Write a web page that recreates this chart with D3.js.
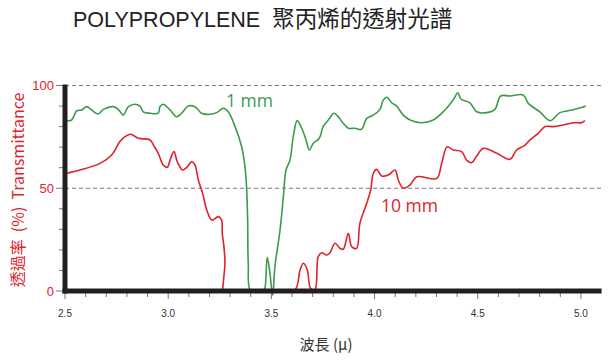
<!DOCTYPE html>
<html>
<head>
<meta charset="utf-8">
<script src="https://cdn.jsdelivr.net/npm/d3@7"></script>
<style>
  body { margin: 0; background: #fff; }
  svg { display: block; }
</style>
</head>
<body>
<div id="chart"></div>
<script>
// spectrum, 1 mm sample (wavelength in micron, transmittance in %)
var thinWave = [2.508, 2.532, 2.557, 2.581, 2.605, 2.629, 2.661, 2.686, 2.734, 2.758, 2.782, 2.807,
    2.839, 2.863, 2.879, 2.912, 2.952, 2.960, 2.976, 3.009, 3.041, 3.065, 3.097, 3.130, 3.162, 3.203,
    3.235, 3.267, 3.291, 3.324, 3.356, 3.372, 3.380, 3.385, 3.388, 3.400, 3.461, 3.469, 3.480, 3.493,
    3.506, 3.517, 3.542, 3.558, 3.571, 3.590, 3.606, 3.625, 3.647, 3.668, 3.684, 3.703, 3.732, 3.751,
    3.776, 3.803, 3.824, 3.848, 3.873, 3.905, 3.937, 3.962, 3.994, 4.026, 4.042, 4.059, 4.083, 4.107,
    4.139, 4.172, 4.228, 4.284, 4.341, 4.381, 4.403, 4.419, 4.462, 4.495, 4.543, 4.583, 4.611, 4.656,
    4.720, 4.745, 4.801, 4.850, 4.898, 4.938, 4.971, 5.024];
var thinT = [82.9, 83.2, 87.7, 88.1, 89.7, 88.1, 86.1, 88.4, 89.7, 88.4, 85.6, 89.7,
    90.9, 90.0, 87.2, 86.5, 86.5, 89.7, 90.9, 88.1, 84.8, 86.5, 90.0, 89.7, 86.5, 86.0,
    86.8, 88.9, 87.2, 80.0, 70.2, 60.5, 50.0, 34.5, 13.5, 0, 0, 1.5, 16.4, 8.6,
    -2, 11.8, 29.7, 45.9, 58.9, 63.7, 75.1, 82.9, 79.2, 73.5, 68.6, 71.9, 74.3, 80.0,
    83.2, 86.5, 84.8, 81.6, 79.2, 79.2, 78.7, 84.0, 85.6, 88.4, 92.9, 94.3, 91.6, 90.0,
    85.6, 83.2, 81.9, 83.2, 88.1, 92.9, 96.5, 93.3, 91.6, 87.2, 86.8, 88.4, 94.9, 94.9,
    95.4, 91.3, 87.2, 82.9, 86.8, 87.7, 88.4, 90.0];

// spectrum, 10 mm sample
var thickWave = [2.508, 2.573, 2.670, 2.726, 2.766, 2.791, 2.818, 2.855, 2.912, 2.931, 2.952, 2.976,
    2.996, 3.009, 3.028, 3.044, 3.070, 3.090, 3.114, 3.130, 3.146, 3.167, 3.187, 3.211, 3.243, 3.259,
    3.262, 3.270, 3.275, 3.267, 3.268, 3.40, 3.52, 3.614, 3.639, 3.655, 3.674, 3.690, 3.711, 3.727,
    3.744, 3.768, 3.784, 3.808, 3.832, 3.848, 3.873, 3.889, 3.913, 3.929, 3.962, 3.981, 3.994, 4.010,
    4.034, 4.066, 4.099, 4.115, 4.139, 4.172, 4.204, 4.301, 4.325, 4.352, 4.381, 4.422, 4.446, 4.470,
    4.495, 4.527, 4.592, 4.656, 4.688, 4.729, 4.753, 4.793, 4.826, 4.866, 4.914, 4.963, 5.003, 5.019];
var thickT = [57.3, 58.9, 62.1, 66.2, 72.7, 75.1, 76.3, 74.3, 73.5, 70.6, 67.0, 61.3,
    60.2, 63.7, 67.8, 62.9, 58.9, 60.2, 62.9, 61.3, 54.0, 47.5, 39.4, 34.5, 36.2, 34.5,
    28.1, 21.6, 13.5, 3.7, 0, 0, 0, 0.5, 10.2, 13.5, 10.2, 1.3, 0.5, 16.7,
    18.6, 17.5, 18.6, 23.2, 20.8, 20.3, 28.1, 21.6, 20.8, 32.9, 42.7, 49.1, 57.3, 59.2,
    56.0, 56.4, 58.9, 54.0, 50.0, 51.6, 55.6, 54.8, 62.1, 70.2, 68.6, 67.8, 63.7, 62.4,
    65.7, 69.4, 67.0, 64.1, 68.6, 71.0, 73.5, 76.7, 80.0, 80.0, 80.8, 81.9, 81.9, 82.9];

var xTicks = d3.range(25, 51).map(function(d) { return d / 10; });
var xTickLabels = ["2.5", "3.0", "3.5", "4.0", "4.5", "5.0"];
var yTicks = d3.range(0, 101, 10);
var yTickLabels = [0, 50, 100];
var gridValues = [50, 100];

var width = 613, height = 364;
var red = "#e1222b", green = "#3b9b49";

var svg = d3.select("#chart").append("svg")
    .attr("width", width)
    .attr("height", height);

var x = d3.scaleLinear().domain([2.5, 5.1]).range([65, 601.6]);
var y = d3.scaleLinear().domain([0, 100]).range([291, 85.5]);

// dashed gridlines
svg.selectAll(".grid")
    .data(gridValues)
    .enter().append("line")
    .attr("x1", x(2.5))
    .attr("x2", x(5.1))
    .attr("y1", function(d) { return y(d); })
    .attr("y2", function(d) { return y(d); })
    .attr("stroke", "#7a7a7a")
    .attr("stroke-width", 1)
    .attr("stroke-dasharray", "4,3");

// curves
var line = d3.line()
    .x(function(d) { return x(d[0]); })
    .y(function(d) { return y(d[1]); })
    .curve(d3.curveCatmullRom.alpha(0.5));

svg.append("path")
    .datum(d3.zip(thickWave, thickT))
    .attr("d", line)
    .attr("fill", "none")
    .attr("stroke", red)
    .attr("stroke-width", 1.6);

svg.append("path")
    .datum(d3.zip(thinWave, thinT))
    .attr("d", line)
    .attr("fill", "none")
    .attr("stroke", green)
    .attr("stroke-width", 1.6);

// x axis ticks
svg.selectAll(".xtick")
    .data(xTicks)
    .enter().append("line")
    .attr("x1", function(d) { return x(d); })
    .attr("x2", function(d) { return x(d); })
    .attr("y1", y(0))
    .attr("y2", function(d, i) { return y(0) + (i % 5 === 0 ? 8 : 6); })
    .attr("stroke", "#777")
    .attr("stroke-width", 1);

svg.selectAll(".xlabel")
    .data(xTickLabels)
    .enter().append("text")
    .attr("x", function(d) { return x(+d); })
    .attr("y", 317)
    .attr("text-anchor", "middle")
    .style("font-family", "Liberation Sans, Arial, sans-serif")
    .style("font-size", "10px")
    .style("fill", "#333")
    .text(function(d) { return d; });

// y axis ticks
svg.selectAll(".ytick")
    .data(yTicks)
    .enter().append("line")
    .attr("x1", function(d) { return d % 50 === 0 ? 56 : 59; })
    .attr("x2", x(2.5))
    .attr("y1", function(d) { return y(d); })
    .attr("y2", function(d) { return y(d); })
    .attr("stroke", "#777")
    .attr("stroke-width", 1);

svg.selectAll(".ylabel")
    .data(yTickLabels)
    .enter().append("text")
    .attr("x", 54)
    .attr("y", function(d) { return y(d) + 4.5; })
    .attr("text-anchor", "end")
    .style("font-family", "Liberation Sans, Arial, sans-serif")
    .style("font-size", "13px")
    .style("fill", red)
    .text(function(d) { return d; });

// thick black axes
svg.append("line")
    .attr("x1", x(2.5)).attr("x2", x(2.5))
    .attr("y1", y(100) - 1).attr("y2", y(0) + 2.5)
    .attr("stroke", "#231f20")
    .attr("stroke-width", 5);

svg.append("line")
    .attr("x1", x(2.5) - 2.5).attr("x2", x(5.1))
    .attr("y1", y(0)).attr("y2", y(0))
    .attr("stroke", "#231f20")
    .attr("stroke-width", 5);

// title
var title = svg.append("text")
    .attr("x", 73)
    .attr("y", 27)
    .style("fill", "#222");
title.append("tspan")
    .style("font-family", "Liberation Sans, Arial, sans-serif")
    .style("font-size", "21.5px")
    .text("POLYPROPYLENE");
title.append("tspan")
    .attr("dx", 12)
    .style("font-family", "Noto Sans CJK TC, sans-serif")
    .style("font-size", "22.5px")
    .text("聚丙烯的透射光譜");

// axis titles
svg.append("text")
    .attr("transform", "translate(24,190) rotate(-90)")
    .attr("text-anchor", "middle")
    .style("font-family", "Noto Sans CJK TC, Liberation Sans, sans-serif")
    .style("font-size", "16px")
    .style("fill", red)
    .style("white-space", "pre")
    .text("透過率  (%)  Transmittance");

svg.append("text")
    .attr("x", 326)
    .attr("y", 350)
    .attr("text-anchor", "middle")
    .style("font-family", "Noto Sans CJK TC, sans-serif")
    .style("font-size", "15px")
    .style("fill", "#333")
    .text("波長 (μ)");

// series labels
svg.append("text")
    .attr("x", 226)
    .attr("y", 107)
    .style("font-family", "Open Sans, Noto Sans, sans-serif")
    .style("font-size", "17.5px")
    .style("fill", green)
    .text("1 mm");

svg.append("text")
    .attr("x", 381)
    .attr("y", 212)
    .style("font-family", "Open Sans, Noto Sans, sans-serif")
    .style("font-size", "17.5px")
    .style("fill", red)
    .text("10 mm");
</script>
</body>
</html>
